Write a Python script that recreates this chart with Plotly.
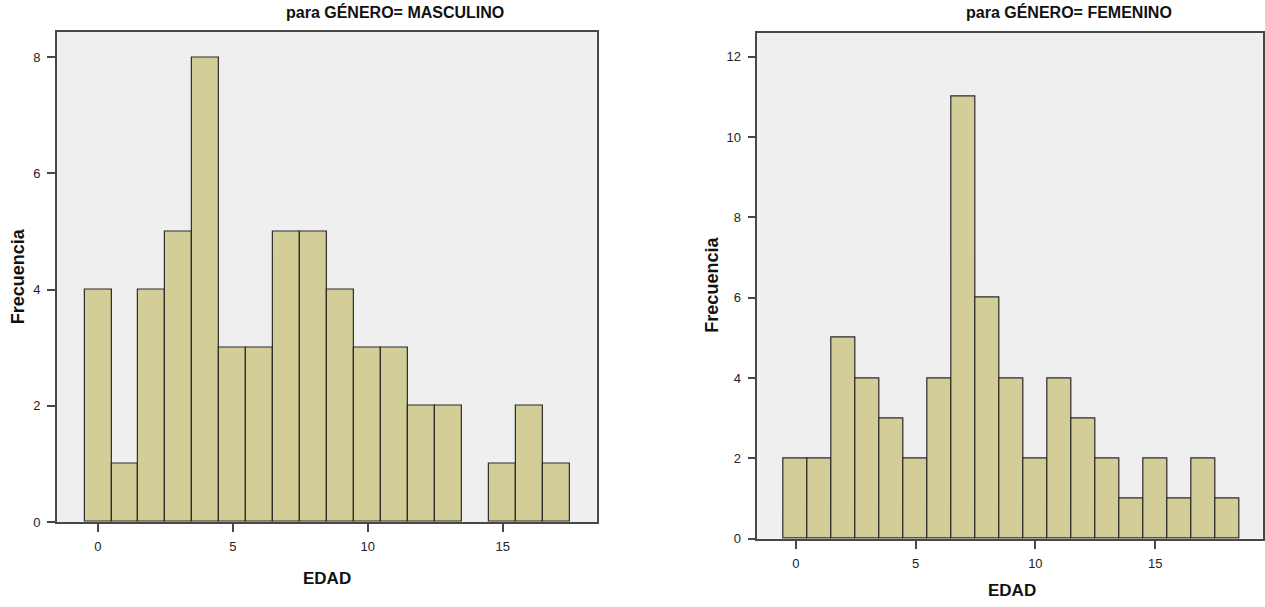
import plotly.graph_objects as go

# Data
edad_m = list(range(0, 18))
freq_m = [4, 1, 4, 5, 8, 3, 3, 5, 5, 4, 3, 3, 2, 2, 0, 1, 2, 1]
edad_f = list(range(0, 19))
freq_f = [2, 2, 5, 4, 3, 2, 4, 11, 6, 4, 2, 4, 3, 2, 1, 2, 1, 2, 1]
title_m = "para GÉNERO= MASCULINO"
title_f = "para GÉNERO= FEMENINO"
x_ticks = [0, 5, 10, 15]

W, H = 1265, 607
BAR = "#d3ce98"
EDGE = "#2a2a2a"
FRAME = "#474747"
SANS = "Liberation Sans, Arial, sans-serif"

fig = go.Figure()
fig.add_trace(go.Bar(x=edad_m, y=freq_m, width=1,
                     marker=dict(color=BAR, line=dict(color=EDGE, width=[0 if v == 0 else 1.2 for v in freq_m])),
                     xaxis="x", yaxis="y", showlegend=False))
fig.add_trace(go.Bar(x=edad_f, y=freq_f, width=1,
                     marker=dict(color=BAR, line=dict(color=EDGE, width=[0 if v == 0 else 1.2 for v in freq_f])),
                     xaxis="x2", yaxis="y2", showlegend=False))

def px(v):
    return v / W

def py(v):
    return 1 - v / H

axis_common = dict(showgrid=False, zeroline=False, showline=True, mirror=True, linecolor=FRAME, linewidth=1.5,
                   ticks="outside", ticklen=8, tickwidth=1.5, tickcolor=FRAME, ticklabelstandoff=4,
                   tickfont=dict(family=SANS, size=13, color="#222"))

fig.update_layout(
    width=W, height=H, margin=dict(l=0, r=0, t=0, b=0),
    paper_bgcolor="white", plot_bgcolor="#efefef", bargap=0,
    xaxis=dict(domain=[px(57), px(597)], range=[-1.52, 18.48], tickvals=x_ticks, anchor="y", **axis_common),
    yaxis=dict(domain=[py(529), py(32)], range=[0, 8.44], dtick=2, anchor="x", **axis_common),
    xaxis2=dict(domain=[px(758), px(1264)], range=[-1.6, 19.5], tickvals=x_ticks, anchor="y2", **axis_common),
    yaxis2=dict(domain=[py(546), py(33)], range=[0, 12.6], dtick=2, anchor="x2", **axis_common),
)

def note(text, x, y, size, angle=0):
    return dict(text="<b>" + text + "</b>", x=px(x), y=py(y), xref="paper", yref="paper",
                xanchor="center", yanchor="middle", textangle=angle, showarrow=False,
                font=dict(family=SANS, size=size, color="#111"))

fig.update_layout(annotations=[
    note(title_m, 395, 12, 16),
    note(title_f, 1070, 12, 16),
    note("Frecuencia", 18, 280, 18, -90),
    note("Frecuencia", 713, 288, 18, -90),
    note("EDAD", 327, 586, 17),
    note("EDAD", 1013, 598, 17),
])

fig.write_html("out.html")
